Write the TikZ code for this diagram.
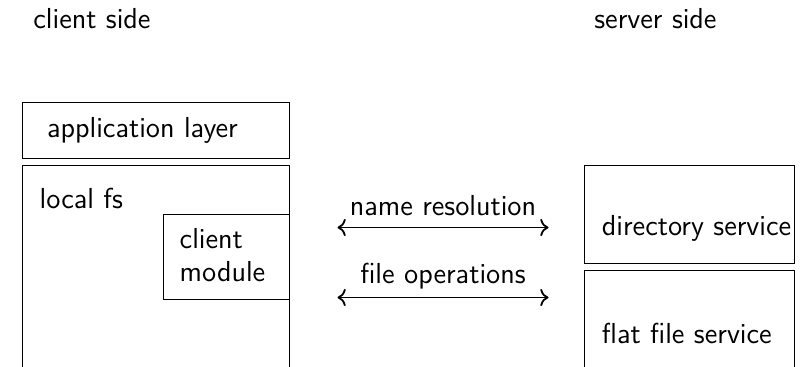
\documentclass[tikz,border=0pt]{standalone}
\usetikzlibrary{arrows.meta}
\begin{document}
\begin{tikzpicture}[x=0.5pt,y=-0.5pt,
	box/.style={draw,line width=0.5pt,inner sep=0pt,anchor=north west},
	lbl/.style={inner sep=0pt,anchor=base west,font=\sffamily\fontsize{14.45}{17}\selectfont},
	link/.style={{To[scale=1.15]}-{To[scale=1.15]},line width=0.9pt}]
	
	\useasboundingbox (0,0) rectangle (802,366);
	\clip (0,0) rectangle (802,366);
	
	% headings
	\node[lbl] (cside) at (33,28) {client side};
	\node[lbl] (sside) at (594,28) {server side};
	
	% client side boxes
	\node[box,minimum width=133.25pt,minimum height=28.25pt] (app) at (22,101.5) {};
	\node[lbl] (appt) at (46.7,137) {application layer};
	
	\node[box,minimum width=133.25pt,minimum height=150pt] (lfs) at (22,164.5) {};
	\node[lbl] (lfst) at (39.3,208.3) {local fs};
	
	\node[box,minimum width=63pt,minimum height=42.25pt] (cm) at (162.5,214) {};
	\node[lbl] (cmt) at (179.3,248.3) {client};
	\node[lbl] (cmb) at (179.3,281.7) {module};
	
	% server side boxes
	\node[box,minimum width=105pt,minimum height=49pt] (dir) at (583.5,164.5) {};
	\node[lbl] (dirt) at (601.5,235) {directory service};
	
	\node[box,minimum width=105pt,minimum height=150pt] (ffs) at (583.5,270) {};
	\node[lbl] (ffst) at (601.5,343.3) {flat file service};
	
	% requests
	\coordinate (nrl) at (337.5,227.5);
	\coordinate (nrr) at (548.5,227.5);
	\draw[link] (nrl) -- (nrr);
	\node[lbl,anchor=base] (nrt) at (443,215.7) {name resolution};
	
	\coordinate (fol) at (337.5,297.5);
	\coordinate (for) at (548.5,297.5);
	\draw[link] (fol) -- (for);
	\node[lbl,anchor=base] (fot) at (443,283) {file operations};
	
\end{tikzpicture}
\end{document}
